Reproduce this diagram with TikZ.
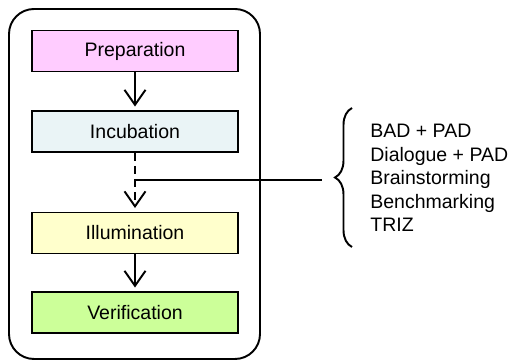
\documentclass[tikz,border=0pt]{standalone}
\usepackage{fontspec}
\setmainfont{Liberation Sans}
\usetikzlibrary{arrows.meta,decorations.pathreplacing}

\begin{document}
\begin{tikzpicture}[
    stage/.style={draw, line width=1.1pt, minimum width=4.12cm, minimum height=0.82cm,
      font=\fontsize{11.1}{13.5}\selectfont},
    flow/.style={line width=1.1pt, -{Straight Barb[length=0.3cm, width=0.42cm, line width=1.1pt]},
      shorten >=2pt}]
    \useasboundingbox (0,0) rectangle (10.3,7.22);

    % Draw outer frame
    \draw[line width=1.1pt, rounded corners=0.5cm] (0.18,0.04) rectangle (5.20,7.04);

    % Draw the four stages
    \node[stage, fill={rgb,255:red,255;green,204;blue,255}] (prep) at (2.70,6.20) {Preparation};
    \node[stage, fill={rgb,255:red,234;green,244;blue,246}] (incub) at (2.70,4.59) {Incubation};
    \node[stage, fill={rgb,255:red,255;green,255;blue,204}] (illum) at (2.70,2.56) {Illumination};
    \node[stage, fill={rgb,255:red,204;green,255;blue,153}] (verif) at (2.70,0.97) {Verification};

    % Draw connecting arrows
    \draw[flow] (prep) -- (incub);
    \draw[flow, dash pattern=on 0.16cm off 0.1cm] (incub) -- (illum);
    \draw[flow] (illum) -- (verif);

    % Draw line to the methods
    \coordinate (tap) at (2.70,3.62);
    \coordinate (brc) at (6.44,3.62);
    \draw[line width=1.1pt] (tap) -- (brc);

    % Draw brace and list of methods
    \draw[line width=1.1pt, decorate, decoration={brace, amplitude=0.34cm}] (7.04,2.28) -- (7.04,5.06);
    \node[anchor=west, inner sep=0pt, align=left, font=\fontsize{11.1}{13.4}\selectfont] (methods) at (7.40,3.66)
      {BAD + PAD\\Dialogue + PAD\\Brainstorming\\Benchmarking\\TRIZ};

  \end{tikzpicture}
\end{document}
